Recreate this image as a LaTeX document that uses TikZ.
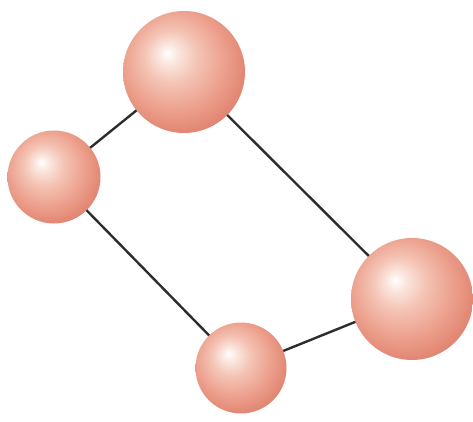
\documentclass[tikz,border=0pt]{standalone}
\usetikzlibrary{backgrounds}
\pgfdeclareradialshading{sph}{\pgfpoint{-7bp}{8bp}}{%
  color(0bp)=(white);
  color(4bp)=(rgb,255:red,251;green,230;blue,222);
  color(11bp)=(rgb,255:red,244;green,195;blue,180);
  color(20bp)=(rgb,255:red,237;green,162;blue,143);
  color(28bp)=(rgb,255:red,226;green,136;blue,116);
  color(36bp)=(rgb,255:red,212;green,118;blue,100);
  color(50bp)=(rgb,255:red,212;green,118;blue,100)}
\definecolor{linkcol}{RGB}{45,45,45}
\tikzset{
  sphere/.style={circle, shading=sph, inner sep=0pt},
  link/.style={draw=linkcol, line width=2.4pt}
}
\begin{document}
\begin{tikzpicture}[x=1pt,y=-1pt]
\useasboundingbox (0,0) rectangle (473,422);
\node[sphere, minimum size=122pt] (top) at (184,72) {};
\node[sphere, minimum size=93pt] (left) at (54,177) {};
\node[sphere, minimum size=122pt] (right) at (412,299) {};
\node[sphere, minimum size=91pt] (bottom) at (241,368) {};
\begin{scope}[on background layer]
\draw[link] (top.center) -- (left.center);
\draw[link] (top.center) -- (right.center);
\draw[link] (left.center) -- (bottom.center);
\draw[link] (bottom.center) -- (right.center);
\end{scope}
\end{tikzpicture}
\end{document}
